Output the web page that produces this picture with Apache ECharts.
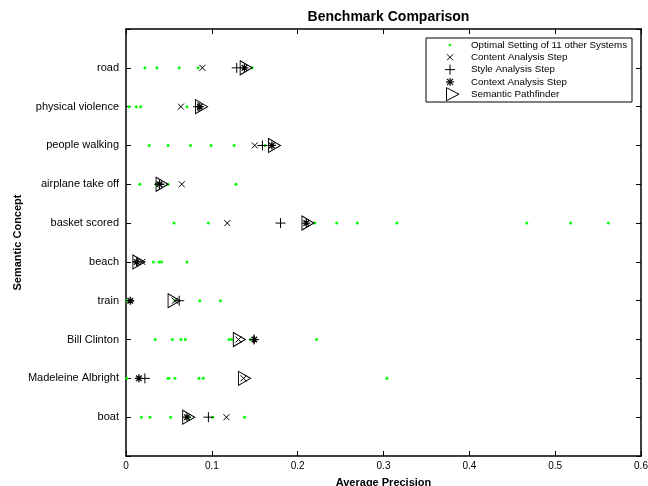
<!DOCTYPE html>
<html>
<head>
<meta charset="utf-8">
<script src="https://cdn.jsdelivr.net/npm/echarts@6/dist/echarts.min.js"></script>
<style>html,body{margin:0;padding:0;background:#fff}#c{width:648px;height:486px}</style>
</head>
<body>
<div id="c"></div>
<script>
// Categories listed top to bottom as in the chart
var categories = ['road','physical violence','people walking','airplane take off','basket scored','beach','train','Bill Clinton','Madeleine Albright','boat'];
// Optimal settings of 11 other systems (visible points per concept)
var otherSystems = [
  [0.022, 0.036, 0.062, 0.084, 0.147],
  [0.0035, 0.012, 0.017, 0.071],
  [0.027, 0.049, 0.075, 0.099, 0.126, 0.162],
  [0.016, 0.035, 0.049, 0.128],
  [0.056, 0.096, 0.220, 0.2455, 0.2695, 0.3155, 0.467, 0.518, 0.562],
  [0.032, 0.0385, 0.0415, 0.071],
  [0.001, 0.057, 0.086, 0.110],
  [0.034, 0.054, 0.064, 0.069, 0.120, 0.123, 0.145, 0.222],
  [0.001, 0.049, 0.050, 0.057, 0.085, 0.090, 0.304],
  [0.018, 0.028, 0.052, 0.073, 0.101, 0.138]
];
var contentStep  = [0.089, 0.064, 0.150, 0.065, 0.118, 0.019, 0.057, 0.131, 0.137, 0.117];
var styleStep    = [0.129, 0.084, 0.159, 0.039, 0.180, 0.013, 0.062, 0.149, 0.022, 0.096];
var contextStep  = [0.138, 0.086, 0.170, 0.039, 0.210, 0.0125, 0.005, 0.1495, 0.015, 0.071];
var pathfinder   = [0.140, 0.088, 0.173, 0.042, 0.212, 0.015, 0.056, 0.132, 0.138, 0.073];
var xTicks = [0, 0.1, 0.2, 0.3, 0.4, 0.5, 0.6];
var seriesNames = ['Optimal Setting of 11 other Systems','Content Analysis Step','Style Analysis Step','Context Analysis Step','Semantic Pathfinder'];

var N = categories.length;
function yOf(i){ return N - i; }
function pts(arr){ return arr.map(function(v,i){ return [v, yOf(i)]; }); }
var otherPts = [];
otherSystems.forEach(function(row,i){ row.forEach(function(v){ otherPts.push([v, yOf(i)]); }); });

var SYM_X = 'path://M0,0L10,10M10,0L0,10';
var SYM_PLUS = 'path://M5,0L5,10M0,5L10,5';
var SYM_STAR = 'path://M5,0L5,10M0,5L10,5M1.5,1.5L8.5,8.5M8.5,1.5L1.5,8.5';
var SYM_TRI = 'path://M0,0L10,6L0,12Z';

var font = '"Liberation Sans", Arial, Helvetica, sans-serif';
var axisLineStyle = {color:'#000', width:1.5};
var tickStyle = {show:true, inside:true, length:5, lineStyle:{color:'#000', width:1}};

var chart = echarts.init(document.getElementById('c'), null, {renderer:'canvas'});

// legend drawn via graphic
var legX = 426, legY = 38, legW = 206, legH = 64, rowH = 12.3;
var legendGraphics = [{
  type:'rect', shape:{x:legX, y:legY, width:legW, height:legH},
  style:{fill:'#fff', stroke:'#000', lineWidth:1}, z:100
}];
var mx = 450;
seriesNames.forEach(function(name, k){
  var cy = legY + 7 + k*rowH;
  legendGraphics.push({type:'text', x:471, y:cy, z:101,
    style:{text:name, fill:'#000', font:'9.8px ' + font, textVerticalAlign:'middle', verticalAlign:'middle'}});
  if (k===0){
    legendGraphics.push({type:'circle', z:101, shape:{cx:mx, cy:cy, r:1.3}, style:{fill:'#00ff00'}});
  } else if (k===1){
    legendGraphics.push({type:'polyline', z:101, shape:{points:[[mx-3,cy-3],[mx+3,cy+3]]}, style:{stroke:'#000', lineWidth:1}});
    legendGraphics.push({type:'polyline', z:101, shape:{points:[[mx+3,cy-3],[mx-3,cy+3]]}, style:{stroke:'#000', lineWidth:1}});
  } else if (k===2){
    legendGraphics.push({type:'polyline', z:101, shape:{points:[[mx,cy-5],[mx,cy+5]]}, style:{stroke:'#000', lineWidth:1}});
    legendGraphics.push({type:'polyline', z:101, shape:{points:[[mx-5,cy],[mx+5,cy]]}, style:{stroke:'#000', lineWidth:1}});
  } else if (k===3){
    [[[mx,cy-4],[mx,cy+4]],[[mx-4,cy],[mx+4,cy]],[[mx-3,cy-3],[mx+3,cy+3]],[[mx+3,cy-3],[mx-3,cy+3]]].forEach(function(p){
      legendGraphics.push({type:'polyline', z:101, shape:{points:p}, style:{stroke:'#000', lineWidth:1.2}});
    });
  } else {
    legendGraphics.push({type:'polygon', z:101, shape:{points:[[mx-3.5,cy-6.5],[mx+9,cy],[mx-3.5,cy+6.5]]}, style:{fill:'none', stroke:'#000', lineWidth:1}});
  }
});

var option = {
  animation:false,
  backgroundColor:'#fff',
  textStyle:{fontFamily:font},
  title:{
    text:'Benchmark Comparison', left:383.5, top:5, textAlign:'center',
    textStyle:{fontSize:14, fontWeight:'bold', color:'#000', fontFamily:font}
  },
  grid:{left:126, right:7, top:29, bottom:30, containLabel:false, outerBoundsMode:'none'},
  xAxis:[{
    type:'value', min:0, max:0.6, interval:0.1, position:'bottom',
    name:'Average Precision', nameLocation:'middle', nameGap:21, nameMoveOverlap:false,
    nameTextStyle:{fontSize:11, fontWeight:'bold', color:'#000', fontFamily:font},
    axisLine:{show:true, onZero:false, lineStyle:axisLineStyle},
    axisTick:tickStyle,
    axisLabel:{fontSize:10, color:'#000', margin:5, fontFamily:font, formatter:function(v){ return String(+v.toFixed(1)); }},
    splitLine:{show:false}
  },{
    type:'value', min:0, max:0.6, interval:0.1, position:'top',
    axisLine:{show:true, onZero:false, lineStyle:axisLineStyle},
    axisTick:tickStyle,
    axisLabel:{show:false}, splitLine:{show:false}
  }],
  yAxis:[{
    type:'value', min:0, max:N+1, interval:1, position:'left',
    name:'Semantic Concept', nameLocation:'middle', nameGap:103, nameRotate:90, nameMoveOverlap:false,
    nameTextStyle:{fontSize:11, fontWeight:'bold', color:'#000', fontFamily:font},
    axisLine:{show:true, onZero:false, lineStyle:axisLineStyle},
    axisTick:tickStyle,
    axisLabel:{fontSize:11, color:'#000', margin:7, fontFamily:font,
      formatter:function(v){ var i = N - v; return (i>=0 && i<N) ? categories[i] : ''; }},
    splitLine:{show:false}
  },{
    type:'value', min:0, max:N+1, interval:1, position:'right',
    axisLine:{show:true, onZero:false, lineStyle:axisLineStyle},
    axisTick:tickStyle,
    axisLabel:{show:false}, splitLine:{show:false}
  }],
  graphic:legendGraphics,
  series:[
    {name:seriesNames[0], type:'scatter', symbol:'circle', symbolSize:3, data:otherPts,
      itemStyle:{color:'#00ff00', opacity:1}, z:2},
    {name:seriesNames[1], type:'scatter', symbol:SYM_X, symbolSize:6, data:pts(contentStep),
      itemStyle:{color:'none', borderColor:'#000', borderWidth:1, opacity:1}, z:3},
    {name:seriesNames[2], type:'scatter', symbol:SYM_PLUS, symbolSize:10, data:pts(styleStep),
      itemStyle:{color:'none', borderColor:'#000', borderWidth:1, opacity:1}, z:4},
    {name:seriesNames[3], type:'scatter', symbol:SYM_STAR, symbolSize:8, data:pts(contextStep),
      itemStyle:{color:'none', borderColor:'#000', borderWidth:1.3, opacity:1}, z:5},
    {name:seriesNames[4], type:'scatter', symbol:SYM_TRI, symbolSize:[12,14], data:pts(pathfinder),
      itemStyle:{color:'none', borderColor:'#000', borderWidth:1, opacity:1}, z:6}
  ]
};
chart.setOption(option);
</script>
</body>
</html>
